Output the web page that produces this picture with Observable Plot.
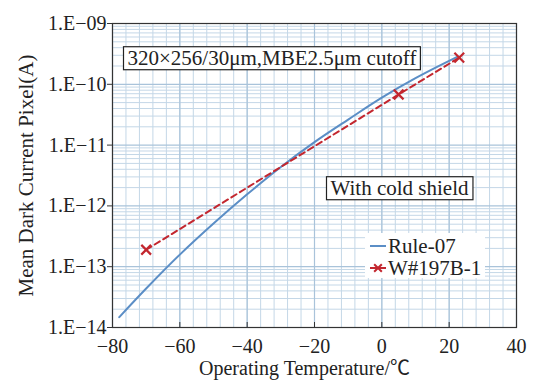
<!DOCTYPE html>
<html><head><meta charset="utf-8">
<script src="https://cdn.jsdelivr.net/npm/d3@7"></script>
<script src="https://cdn.jsdelivr.net/npm/@observablehq/plot@0.6"></script>
<style>
html,body{margin:0;padding:0;background:#fff;}
#chart svg{display:block;}
</style></head><body><div id="chart"></div>
<script>
// ---- data ----
const rule07Temp    = [-78, -70, -60, -50, -40, -30, -20, -10, 0, 10, 22.4];
const rule07Current = [1.48e-14, 4.37e-14, 1.58e-13, 5.13e-13, 1.55e-12, 4.37e-12, 1.12e-11, 2.63e-11, 6.03e-11, 1.26e-10, 2.82e-10];
const w197Temp      = [-70, 5, 23];
const w197Current   = [1.9e-13, 6.8e-11, 2.75e-10];
const seriesNames   = ["Rule-07", "W#197B-1"];
const xTicks        = [-80, -60, -40, -20, 0, 20, 40];
const xTickLabels   = ["−80", "−60", "−40", "−20", "0", "20", "40"];
const yTicks        = [1e-14, 1e-13, 1e-12, 1e-11, 1e-10, 1e-9];
const yTickLabels   = ["1.E−14", "1.E−13", "1.E−12", "1.E−11", "1.E−10", "1.E−09"];
const xMinorGrid    = d3.range(-80, 41, 4);
const yMinorGrid    = [-14, -13, -12, -11, -10].flatMap(e => [2,3,4,5,6,7,8,9].map(k => k * Math.pow(10, e)));
const titleBox      = "320×256/30μm,MBE2.5μm cutoff";
const noteBox       = "With cold shield";
const xLabel        = "Operating Temperature/℃";
const yLabel        = "Mean Dark Current Pixel(A)";

const rule07 = rule07Temp.map((t, i) => ({t, c: rule07Current[i]}));
const w197 = w197Temp.map((t, i) => ({t, c: w197Current[i]}));

const FONT = "'Liberation Serif', 'Times New Roman', 'Noto Sans CJK SC', serif";
const BLUE = "#5b8ec6", RED = "#c3272f";
const GRID = "#c4d7e7", GRID2 = "#a9c3da";

const chart = Plot.plot({
  width: 534, height: 380,
  marginLeft: 112, marginRight: 18, marginTop: 23, marginBottom: 53,
  style: {fontFamily: FONT, fontSize: "20px", color: "#222", background: "#fff"},
  x: {domain: [-80, 40]},
  y: {type: "log", domain: [1e-14, 1e-9]},
  marks: [
    Plot.ruleX(xMinorGrid, {stroke: GRID, strokeWidth: 1}),
    Plot.ruleY(yMinorGrid, {stroke: GRID, strokeWidth: 1}),
    Plot.ruleX(xTicks, {stroke: GRID2, strokeWidth: 1.2}),
    Plot.ruleY(yTicks, {stroke: GRID2, strokeWidth: 1.2}),
    Plot.line(rule07, {x: "t", y: "c", stroke: BLUE, strokeWidth: 2, curve: "monotone-x"}),
    Plot.line(w197, {x: "t", y: "c", stroke: RED, strokeWidth: 2, strokeDasharray: "6,4"}),
    Plot.dot(w197, {x: "t", y: "c", symbol: "times", r: 4.5, stroke: RED, strokeWidth: 2.2}),
    Plot.frame({stroke: "#333", strokeWidth: 1.2}),
    Plot.axisY({ticks: yTicks, tickFormat: d => yTickLabels[yTicks.indexOf(d)], tickSize: 5, tickPadding: 1, label: null, fontSize: 20, stroke: "#333"}),
    Plot.axisX({ticks: xTicks, tickFormat: d => xTickLabels[xTicks.indexOf(d)], tickSize: -5, tickPadding: 16, label: null, fontSize: 20, stroke: "#333"}),
    Plot.text([xLabel], {text: d => d, frameAnchor: "bottom", dy: 41, dx: -10, fontSize: 20, lineAnchor: "middle"}),
    Plot.text([yLabel], {text: d => d, frameAnchor: "left", rotate: -90, dx: -86, fontSize: 21, lineAnchor: "middle", textAnchor: "middle"}),
    Plot.text([titleBox], {text: d => d, frameAnchor: "top-left", textAnchor: "start", lineAnchor: "middle", dx: 15, dy: 34.5, fontSize: 21, className: "boxed"}),
    Plot.text([noteBox], {text: d => d, frameAnchor: "top-left", textAnchor: "start", lineAnchor: "middle", dx: 218, dy: 164.5, fontSize: 21, className: "boxed"})
  ]
});
document.getElementById("chart").appendChild(chart);

// boxes behind the annotation texts
const svg = d3.select(chart);
svg.selectAll("g.boxed text").each(function() {
  const b = this.getBBox();
  const g = this.parentNode;
  d3.select(g).insert("rect", "text")
    .attr("x", b.x - 4).attr("y", b.y + 1).attr("width", b.width + 8).attr("height", b.height - 1)
    .attr("fill", "#fff").attr("stroke", "#222").attr("stroke-width", 1.2)
    .attr("transform", this.getAttribute("transform"));
});

// legend
const lg = svg.append("g").attr("font-family", FONT).attr("font-size", 21).attr("text-anchor", "start");
const lx = 365, ly = 233;
lg.append("rect").attr("x", lx).attr("y", ly).attr("width", 120).attr("height", 45).attr("fill", "#fff");
lg.append("line").attr("x1", lx + 5).attr("x2", lx + 21).attr("y1", ly + 13).attr("y2", ly + 13).attr("stroke", BLUE).attr("stroke-width", 2);
lg.append("text").attr("x", lx + 23).attr("y", ly + 13).attr("dy", "0.35em").attr("fill", "#222").text(seriesNames[0]);
lg.append("line").attr("x1", lx + 5).attr("x2", lx + 21).attr("y1", ly + 35).attr("y2", ly + 35).attr("stroke", RED).attr("stroke-width", 2);
lg.append("path").attr("d", d3.symbol(d3.symbolTimes, 40)()).attr("transform", `translate(${lx + 13},${ly + 35})`).attr("stroke", RED).attr("stroke-width", 2).attr("fill", "none");
lg.append("text").attr("x", lx + 23).attr("y", ly + 35).attr("dy", "0.35em").attr("fill", "#222").text(seriesNames[1]);
</script></body></html>
